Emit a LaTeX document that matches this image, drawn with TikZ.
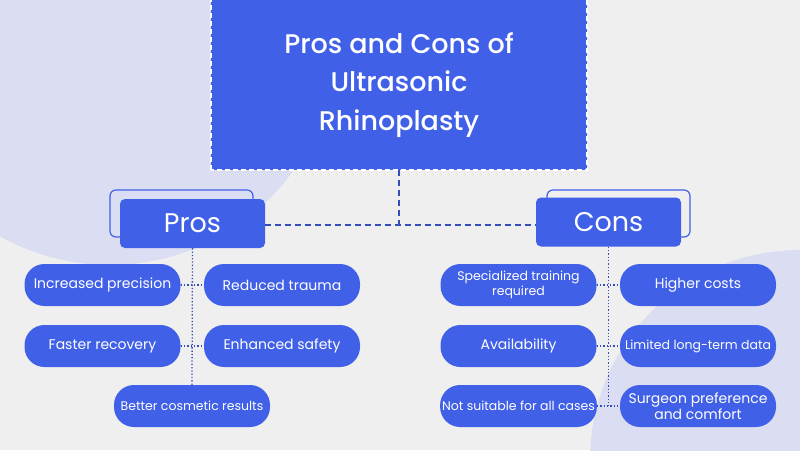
\documentclass[tikz,border=0pt]{standalone}
\usepackage{fontspec}
\setmainfont{Poppins}
\newfontfamily\titlefont{Poppins Medium}
\begin{document}
\begin{tikzpicture}[x=1pt,y=-1pt,
  every node/.style={font=\fontsize{12.5}{14.5}\selectfont},
  pill/.style={fill=blu,text=white,rounded corners=20pt,minimum width=156pt,minimum height=42pt,inner sep=2pt,align=center},
  head/.style={fill=blu,text=white,rounded corners=5pt,minimum width=145pt,minimum height=49pt,font=\fontsize{27}{30}\selectfont},
  ghost/.style={draw=blu,line width=1.2pt,fill=none,rounded corners=6pt},
  dashline/.style={draw=blu!80!black,line width=1.5pt,dash pattern=on 6pt off 4pt},
  dotline/.style={draw=blu!80!black,line width=1.3pt,dotted}]
\definecolor{blu}{RGB}{65,96,232}
\definecolor{bg}{RGB}{239,239,239}
\definecolor{lav}{RGB}{219,222,242}
\fill[bg] (0,0) rectangle (800,450);
\begin{scope}
\clip (0,0) rectangle (800,450);
\fill[lav] (110,40) circle (225);
\fill[lav] (800,460) circle (210);
\end{scope}
\useasboundingbox (0,0) rectangle (800,450);
% title
\node[fill=blu,text=white,minimum width=376pt,minimum height=170pt,align=center,font=\fontsize{27}{38.5}\titlefont] (t) at (399,85) {Pros and Cons of\\Ultrasonic\\Rhinoplasty};
\draw[white,line width=1.5pt,dash pattern=on 5pt off 3pt] (t.south west) -- (t.north west) (t.north east) -- (t.south east) -- (t.south west);
% heads
\draw[ghost] (110,190) rectangle (253,237);
\draw[ghost] (547,190) rectangle (690,237);
\node[head] (p) at (192.5,223.5) {Pros};
\node[head] (c) at (608.5,222) {Cons};
\coordinate (m) at (399,225);
\draw[dashline] (t.south) -- (m);
\draw[dashline] (p.east |- m) -- (c.west |- m);
% pros
\node[pill,font=\fontsize{14}{16}\selectfont] (p1) at (102.5,285) {Increased precision};
\node[pill,font=\fontsize{14}{16}\selectfont] (p2) at (282,285) {Reduced trauma};
\node[pill,font=\fontsize{14}{16}\selectfont] (p3) at (102.5,346) {Faster recovery};
\node[pill,font=\fontsize{14}{16}\selectfont] (p4) at (282,346) {Enhanced safety};
\node[pill] (p5) at (192,406) {Better cosmetic results};
\draw[dotline] (p.south) -- (p5.north);
\draw[dotline] (p1.east) -- (p2.west);
\draw[dotline] (p3.east) -- (p4.west);
% cons
\node[pill] (c1) at (518.5,285) {Specialized training\\required};
\node[pill,font=\fontsize{14}{16}\selectfont] (c2) at (698,285) {Higher costs};
\node[pill,font=\fontsize{14}{16}\selectfont] (c3) at (518.5,346) {Availability};
\node[pill] (c4) at (698,346) {Limited long-term data};
\node[pill] (c5) at (518.5,406) {Not suitable for all cases};
\node[pill,font=\fontsize{14}{16}\selectfont] (c6) at (698,406) {Surgeon preference\\and comfort};
\draw[dotline] (c.south) -- (c.south |- c5.east);
\draw[dotline] (c1.east) -- (c2.west);
\draw[dotline] (c3.east) -- (c4.west);
\draw[dotline] (c5.east) -- (c6.west);
\end{tikzpicture}
\end{document}
